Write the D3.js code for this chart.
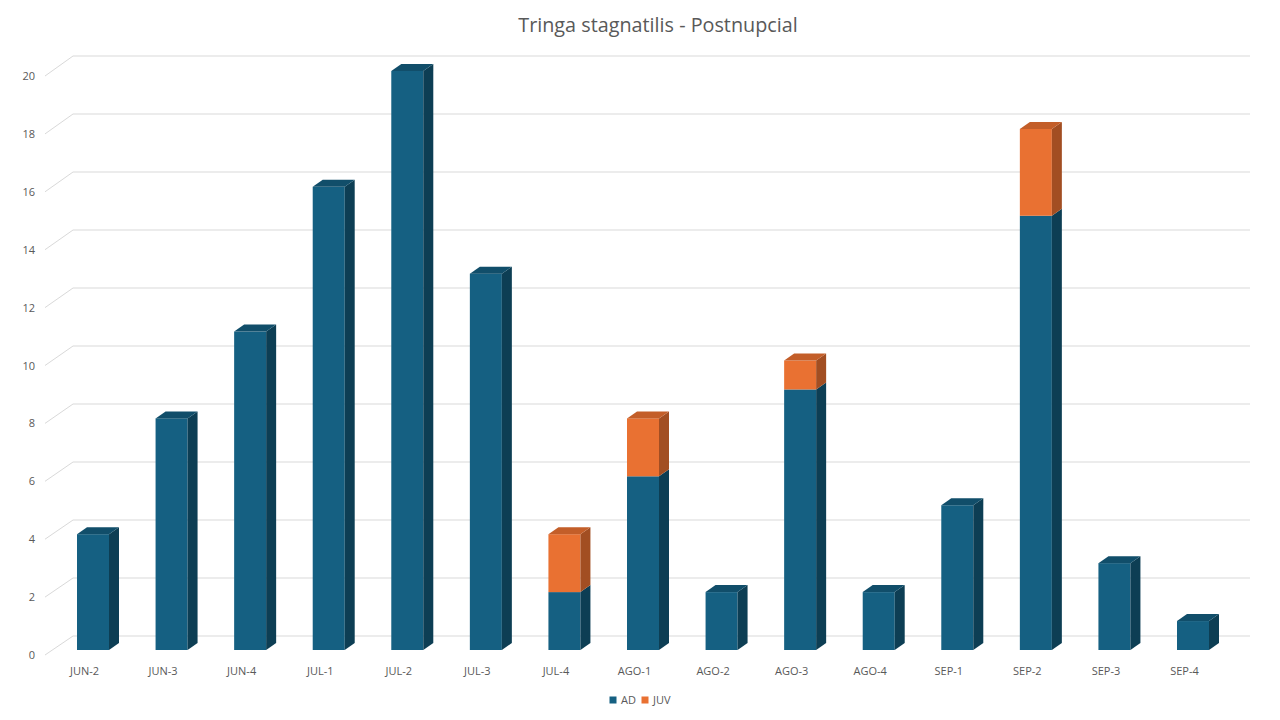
<!DOCTYPE html>
<html>
<head>
<meta charset="utf-8">
<script src="https://cdn.jsdelivr.net/npm/d3@7"></script>
<style>
    body { margin: 0; background: #fff; }
    text { font-family: "Open Sans", "Liberation Sans", sans-serif; fill: #595959; }
</style>
</head>
<body>
<div id="chart"></div>
<script>
// chart data
const categories = ["JUN-2", "JUN-3", "JUN-4", "JUL-1", "JUL-2", "JUL-3", "JUL-4", "AGO-1",
    "AGO-2", "AGO-3", "AGO-4", "SEP-1", "SEP-2", "SEP-3", "SEP-4"];
const adValues = [4, 8, 11, 16, 20, 13, 2, 6, 2, 9, 2, 5, 15, 3, 1];
const juvValues = [0, 0, 0, 0, 0, 0, 2, 2, 0, 1, 0, 0, 3, 0, 0];
const seriesNames = ["AD", "JUV"];
const yTicks = [0, 2, 4, 6, 8, 10, 12, 14, 16, 18, 20];

const width = 1280, height = 720;

// face colours per series: front, side, top
const faceColors = {
    AD: { front: "#156082", side: "#0d3e54", top: "#114e6a" },
    JUV: { front: "#e97132", side: "#a24e22", top: "#c35e29" }
};

const rows = categories.map((c, i) => ({ cat: c, AD: adValues[i], JUV: juvValues[i] }));
const stacked = d3.stack().keys(seriesNames)(rows);

const svg = d3.select("#chart").append("svg")
    .attr("width", width)
    .attr("height", height);

// scales: front of the floor, back wall, and bar front faces
const yFront = d3.scaleLinear().domain([0, 20]).range([655, 76]);
const yBack = d3.scaleLinear().domain([0, 20]).range([636, 56]);
const yBar = d3.scaleLinear().domain([0, 20]).range([650, 71]);
const x = d3.scalePoint().domain(categories).range([93, 1193]);

const barW = 32, depthX = 10, depthY = -7;
const wallLeft = 73, wallRight = 1250, floorLeft = 45;

// gridlines (perspective)
const grid = svg.append("g").attr("class", "grid");
grid.selectAll("path")
    .data(yTicks)
    .enter().append("path")
    .attr("d", d => `M${floorLeft},${yFront(d)}L${wallLeft},${yBack(d)}L${wallRight},${yBack(d)}`)
    .attr("fill", "none")
    .attr("stroke", "#d9d9d9")
    .attr("stroke-width", 1);

// y axis labels
const yAxis = d3.axisLeft(yFront).tickValues(yTicks).tickSize(0).tickPadding(0);
svg.append("g")
    .attr("transform", "translate(35,0)")
    .call(yAxis)
    .call(g => g.select(".domain").remove())
    .call(g => g.selectAll("text")
        .attr("font-size", "11px")
        .style("font-family", "'Open Sans', sans-serif")
        .style("fill", "#595959"));

// bars
const bars = svg.append("g").attr("class", "bars");
stacked.forEach((layer, li) => {
    const col = faceColors[layer.key];
    layer.forEach((d, i) => {
        if (d[1] - d[0] <= 0) return;
        const x0 = x(categories[i]) - barW / 2;
        const x1 = x0 + barW;
        const yt = yBar(d[1]), yb = yBar(d[0]);
        const g = bars.append("g");
        g.append("rect")
            .attr("x", x0).attr("y", yt)
            .attr("width", barW).attr("height", yb - yt)
            .attr("fill", col.front);
        g.append("path")
            .attr("d", `M${x1},${yt}L${x1 + depthX},${yt + depthY}L${x1 + depthX},${yb + depthY}L${x1},${yb}Z`)
            .attr("fill", col.side);
        // top face only on the topmost visible segment
        const isTop = stacked.slice(li + 1).every(l => l[i][1] - l[i][0] <= 0);
        if (isTop) {
            g.append("path")
                .attr("d", `M${x0},${yt}L${x0 + depthX},${yt + depthY}L${x1 + depthX},${yt + depthY}L${x1},${yt}Z`)
                .attr("fill", col.top);
        }
    });
});

// x axis labels
svg.append("g").attr("class", "x-labels")
    .selectAll("text")
    .data(categories)
    .enter().append("text")
    .attr("x", d => x(d) - 8.5)
    .attr("y", 675)
    .attr("text-anchor", "middle")
    .attr("font-size", "11px")
    .text(d => d);

// title
svg.append("text")
    .attr("x", 658)
    .attr("y", 32)
    .attr("text-anchor", "middle")
    .attr("font-size", "19.8px")
    .text("Tringa stagnatilis - Postnupcial");

// legend
const legend = svg.append("g").attr("class", "legend");
const legendItems = [
    { key: "AD", x: 613 },
    { key: "JUV", x: 645 }
];
legendItems.forEach(item => {
    legend.append("rect")
        .attr("x", item.x - 3.5).attr("y", 696.5)
        .attr("width", 7).attr("height", 7)
        .attr("fill", faceColors[item.key].front);
    legend.append("text")
        .attr("x", item.x + 8)
        .attr("y", 704)
        .attr("font-size", "11px")
        .text(item.key);
});
</script>
</body>
</html>
